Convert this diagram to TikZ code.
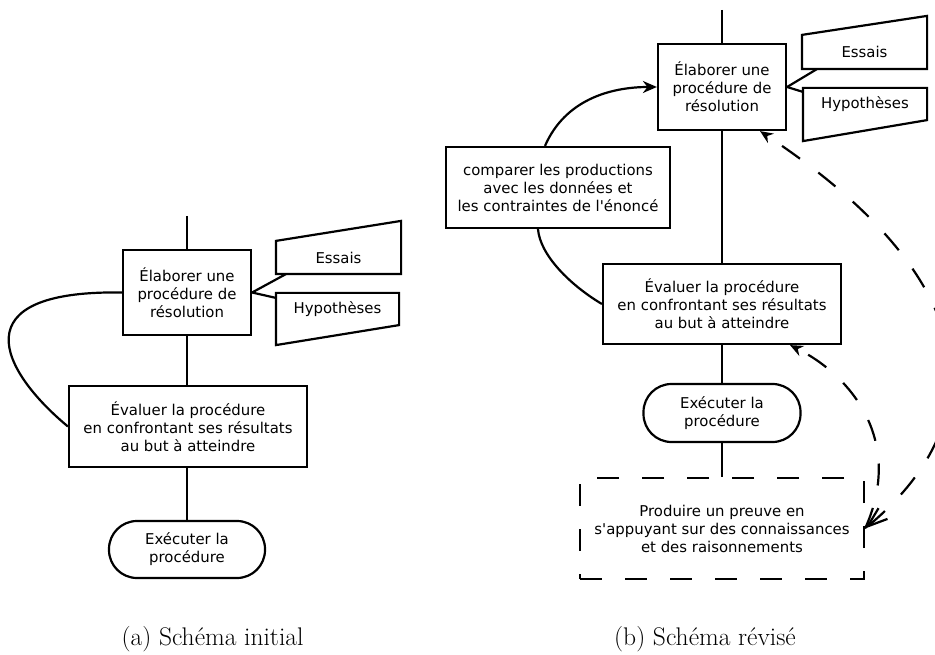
\documentclass[tikz,border=0pt]{standalone}
\usepackage{fontspec}
\newfontfamily\djv{DejaVu Sans}
\usetikzlibrary{arrows.meta}
\begin{document}
\begin{tikzpicture}[x=1pt,y=-1pt,line width=2.2pt,
  boxtxt/.style={font=\djv\fontsize{14.9}{18}\selectfont, align=center},
  procbox/.style={boxtxt, draw, fill=white, inner sep=0pt},
  termbox/.style={boxtxt, draw, fill=white, inner sep=0pt, rounded corners=28pt},
  inbox/.style={boxtxt, inner sep=0pt},
  dpat/.style={dash pattern=on 22pt off 23pt},
  captxt/.style={font=\fontsize{25.5}{30}\selectfont, anchor=base, inner sep=0pt}]
\useasboundingbox (0,0) rectangle (935,655);

% ---------------- (a) ----------------
\coordinate (topA) at (187,216);
\node[procbox, minimum width=128pt, minimum height=85pt] (elabA) at (187,292.5) {Élaborer une\\procédure de\\résolution};
\node[procbox, minimum width=238pt, minimum height=81pt] (evalA) at (188,426.5) {Évaluer la procédure\\en confrontant ses résultats\\au but à atteindre};
\node[termbox, minimum width=156pt, minimum height=57pt] (execA) at (187,549.5) {Exécuter la\\procédure};
\node[inbox, minimum width=123pt, minimum height=31pt] (essA) at (338.5,257.5) {Essais};
\node[inbox, minimum width=121pt, minimum height=30pt] (hypA) at (337.5,309) {Hypothèses};
\draw (essA.south west) -- (essA.south east) -- ([yshift=20pt]essA.north east) -- (essA.north west) -- cycle;
\draw (hypA.north west) -- (hypA.north east) -- (hypA.south east) -- ([yshift=-20pt]hypA.south west) -- cycle;

\draw (topA) -- (elabA.north);
\draw (elabA.south) -- (evalA.north -| elabA.south);
\draw (evalA.south -| execA.north) -- (execA.north);
\draw (elabA.east) -- ([xshift=10pt]essA.south west);
\draw (elabA.east) -- ([yshift=-5pt]hypA.north west);
\draw (elabA.west) .. controls (-40,290) and (0,370) .. (evalA.west);

\node[captxt] (capA) at (212.5,645) {(a) Schéma initial};

% ---------------- (b) ----------------
\coordinate (topB) at (722,10);
\node[procbox, minimum width=128pt, minimum height=86pt] (elabB) at (722,87) {Élaborer une\\procédure de\\résolution};
\node[procbox, minimum width=224pt, minimum height=81pt] (cmp) at (558,187.5) {comparer les productions\\avec les données et\\les contraintes de l'énoncé};
\node[procbox, minimum width=238pt, minimum height=80pt] (evalB) at (722,304) {Évaluer la procédure\\en confrontant ses résultats\\au but à atteindre};
\node[termbox, minimum width=157pt, minimum height=58pt] (execB) at (722,413) {Exécuter la\\procédure};
\node[boxtxt, draw, dpat, inner sep=0pt, minimum width=284pt, minimum height=101pt] (dbox) at (722,528.5) {Produire un preuve en\\s'appuyant sur des connaissances\\et des raisonnements};
\node[inbox, minimum width=123pt, minimum height=32pt] (essB) at (864.5,52) {Essais};
\node[inbox, minimum width=122pt, minimum height=30pt] (hypB) at (865,104) {Hypothèses};
\draw (essB.south west) -- (essB.south east) -- ([yshift=19pt]essB.north east) -- (essB.north west) -- cycle;
\draw (hypB.north west) -- (hypB.north east) -- (hypB.south east) -- ([yshift=-21pt]hypB.south west) -- cycle;

\draw (topB) -- (elabB.north);
\draw (elabB.south) -- (evalB.north);
\draw (evalB.south) -- (execB.north);
\draw (execB.south) -- (dbox.north);
\draw (elabB.east) -- ([xshift=15pt]essB.south west);
\draw (elabB.east) -- ([yshift=-4pt]hypB.north west);
\draw[-{Stealth[length=14pt,width=12pt]}] ([xshift=-13pt]cmp.north) .. controls (565,100) and (610,87) .. (elabB.west);
\draw (evalB.west) .. controls (570,285) and (540,255) .. ([xshift=-20pt]cmp.south);
\draw[dpat, {Straight Barb[length=20pt,width=14pt]}-{Stealth[length=13pt,width=11pt]}] (dbox.east) .. controls (995,420) and (985,280) .. ([xshift=38pt]elabB.south);
\draw[dpat, -{Stealth[length=13pt,width=11pt]}] (dbox.east) .. controls (905,440) and (850,375) .. ([xshift=68pt]evalB.south);

\node[captxt] (capB) at (705,645) {(b) Schéma révisé};
\end{tikzpicture}
\end{document}
